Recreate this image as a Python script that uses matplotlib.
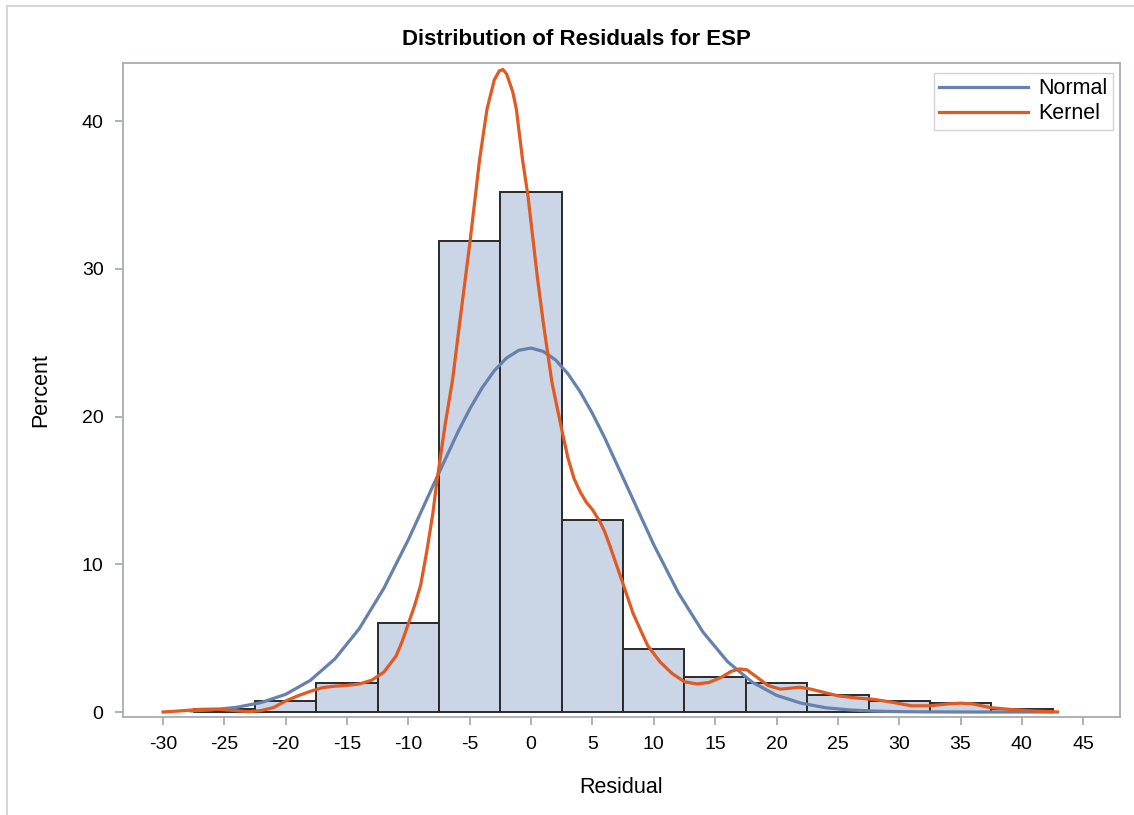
import matplotlib
matplotlib.use("Agg")
import matplotlib.pyplot as plt
from matplotlib.lines import Line2D

plt.rcParams['font.family'] = ['Liberation Sans', 'DejaVu Sans']

# histogram bins (midpoints) and percent heights
bin_mid = [-25, -20, -15, -10, -5, 0, 5, 10, 15, 20, 25, 30, 35, 40]
pct = [0.2, 0.77, 1.95, 6.0, 31.9, 35.2, 13.0, 4.3, 2.35, 1.95, 1.18, 0.77, 0.6, 0.18]

# fitted normal curve
norm_x = [-27.7, -26, -24, -22, -20, -18, -16, -14, -12, -10, -8, -6, -5, -4, -3, -2, -1,
          0, 1, 2, 3, 4, 5, 6, 8, 10, 12, 14, 16, 18, 20, 22, 24, 26, 28, 30, 32, 36, 42.5]
norm_y = [0.07, 0.15, 0.32, 0.64, 1.2, 2.14, 3.59, 5.65, 8.38, 11.68, 15.31, 18.9, 20.52,
          21.94, 23.11, 23.97, 24.49, 24.64, 24.41, 23.83, 22.9, 21.68, 20.21, 18.56, 14.94,
          11.32, 8.07, 5.42, 3.42, 2.03, 1.13, 0.6, 0.29, 0.14, 0.06, 0.025, 0.01, 0.0, 0.0]

# kernel density curve
kern_x = [-30, -28.5, -27, -25.8, -24.5, -23, -22, -21, -20, -19, -18, -17, -16, -15, -14,
          -13, -12, -11, -10.5, -10, -9.5, -9, -8.5, -8, -7.7, -7, -6.4, -5.8, -5, -4.2, -3.6,
          -3.0, -2.6, -2.3, -2.0, -1.5, -1.2, -0.7, -0.25, 0.5, 1.0, 1.7, 2.5, 3.0, 3.5, 4.0,
          4.5, 5.0, 5.6, 6.0, 6.4, 7.4, 8.3, 9.0, 9.5, 10.5, 11.5, 12.5, 13.5, 14.5, 15.5,
          16.3, 17.0, 17.6, 18.5, 19.3, 20.3, 21.0, 21.9, 22.8, 24.0, 25.0, 26.5, 28.0, 29.5,
          31.0, 32.5, 34.0, 35.0, 36.0, 37.4, 39.0, 40.9, 42.9]
kern_y = [0.0, 0.08, 0.18, 0.2, 0.12, 0.02, 0.1, 0.3, 0.75, 1.1, 1.4, 1.65, 1.75, 1.8, 1.9,
          2.15, 2.7, 3.8, 4.8, 6.0, 7.2, 8.6, 10.9, 13.5, 15.5, 19.5, 22.5, 26.5, 31.7, 37.4,
          40.8, 42.8, 43.4, 43.5, 43.2, 42.0, 40.8, 37.4, 34.9, 29.5, 26.3, 22.3, 19.1, 17.2,
          15.8, 14.9, 14.2, 13.7, 12.9, 12.2, 11.3, 8.9, 6.7, 5.4, 4.5, 3.4, 2.6, 2.05, 1.9,
          2.0, 2.35, 2.75, 2.92, 2.85, 2.3, 1.8, 1.55, 1.6, 1.68, 1.55, 1.3, 1.1, 0.95, 0.85,
          0.65, 0.42, 0.42, 0.55, 0.6, 0.55, 0.3, 0.18, 0.07, 0.0]

x_ticks = list(range(-30, 50, 5))
y_ticks = [0, 10, 20, 30, 40]

fig = plt.figure(figsize=(11.34, 8.15), dpi=100)
ax = fig.add_axes([0.1085, 0.1202, 0.8792, 0.8025])

ax.bar(bin_mid, pct, width=5, color='#CAD5E5', edgecolor='#2a2a2a', linewidth=1.4, zorder=2)
ax.plot(norm_x, norm_y, color='#6581AC', lw=2.3, label='Normal', zorder=3)
ax.plot(kern_x, kern_y, color='#E05A22', lw=2.3, label='Kernel', zorder=4)

ax.set_xlim(-33.26, 48.0)
ax.set_ylim(-0.34, 43.94)
ax.set_xticks(x_ticks)
ax.set_yticks(y_ticks)
ax.set_xticklabels([str(t) for t in x_ticks])
for s in ax.spines.values():
    s.set_color('#A8ADB2')
    s.set_linewidth(1.3)
ax.tick_params(colors='#A8ADB2', labelcolor='black', length=6, width=1.3, labelsize=14, pad=8)

ax.set_xlabel('Residual', fontsize=15.5, labelpad=17)
ax.set_ylabel('Percent', fontsize=15.5, labelpad=22)
# title is centred on the whole graph area, not the plot frame
ax.set_title('Distribution of Residuals for ESP', fontsize=16, fontweight='bold', pad=13, x=0.455)

leg = ax.legend(loc='upper right', bbox_to_anchor=(0.993, 0.985), fontsize=15.5,
                frameon=True, fancybox=False, handlelength=4.1, borderpad=0.25,
                labelspacing=0.2, handletextpad=0.5, borderaxespad=0.0)
leg.get_frame().set_edgecolor('#C8C8C8')
leg.get_frame().set_linewidth(1.0)

# outer frame of the output panel
fig.add_artist(Line2D([7 / 1134, 7 / 1134], [0, 1 - 6 / 815], color='#D0D0D0', lw=1.2))
fig.add_artist(Line2D([7 / 1134, 1], [1 - 6 / 815, 1 - 6 / 815], color='#D0D0D0', lw=1.2))

fig.savefig('out.png', dpi=100)
